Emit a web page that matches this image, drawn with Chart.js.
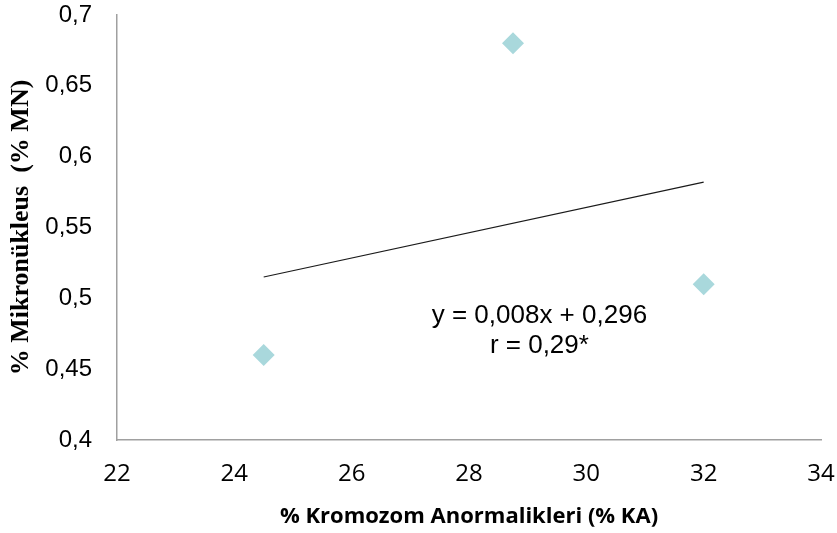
<!DOCTYPE html>
<html>
<head>
<meta charset="utf-8">
<script src="https://cdn.jsdelivr.net/npm/chart.js@4/dist/chart.umd.min.js"></script>
<style>
  html, body { margin: 0; padding: 0; background: #ffffff; }
  #wrap { width: 837px; height: 533px; position: relative; }
</style>
</head>
<body>
<div id="wrap"><canvas id="chart" width="837" height="533"></canvas></div>
<script>
// Kromozom anormallikleri (% KA) ve mikronükleus (% MN) değerleri
const kaValues = [24.5, 28.75, 32];
const mnValues = [0.46, 0.68, 0.51];
const xTicks = [22, 24, 26, 28, 30, 32, 34];
const yTicks = [0.4, 0.45, 0.5, 0.55, 0.6, 0.65, 0.7];
const equationText = ['y = 0,008x + 0,296', 'r = 0,29*'];

// Least-squares trend line over the measured points
function linearFit(xs, ys) {
  const n = xs.length;
  const mx = xs.reduce((a, b) => a + b, 0) / n;
  const my = ys.reduce((a, b) => a + b, 0) / n;
  let sxy = 0, sxx = 0;
  for (let i = 0; i < n; i++) {
    sxy += (xs[i] - mx) * (ys[i] - my);
    sxx += (xs[i] - mx) * (xs[i] - mx);
  }
  const slope = sxy / sxx;
  return { slope, intercept: my - slope * mx };
}
const fit = linearFit(kaValues, mnValues);
const xMin = Math.min(...kaValues), xMax = Math.max(...kaValues);
const trendPoints = [
  { x: xMin, y: fit.intercept + fit.slope * xMin },
  { x: xMax, y: fit.intercept + fit.slope * xMax }
];

const comma = v => Number(v.toFixed(2)).toString().replace('.', ',');

// Draws the regression equation inside the plot area
const equationPlugin = {
  id: 'equationLabel',
  afterDatasetsDraw(chart, args, opts) {
    const { ctx, scales } = chart;
    const cx = scales.x.getPixelForValue(opts.x);
    const cy = scales.y.getPixelForValue(opts.y);
    ctx.save();
    ctx.fillStyle = '#000000';
    ctx.font = '26px "Liberation Sans", Arial, sans-serif';
    ctx.textAlign = 'center';
    ctx.textBaseline = 'middle';
    equationText.forEach((line, i) => ctx.fillText(line, cx, cy + i * opts.lineGap));
    ctx.restore();
  }
};

new Chart(document.getElementById('chart'), {
  type: 'scatter',
  data: {
    datasets: [
      {
        label: '% MN',
        data: kaValues.map((x, i) => ({ x, y: mnValues[i] })),
        pointStyle: 'rectRot',
        pointRadius: 11,
        pointHoverRadius: 11,
        backgroundColor: '#a9d8dc',
        borderColor: '#a9d8dc',
        borderWidth: 0,
        order: 2
      },
      {
        label: 'trend',
        type: 'line',
        data: trendPoints,
        borderColor: '#1a1a1a',
        borderWidth: 1.2,
        pointRadius: 0,
        fill: false,
        order: 1
      }
    ]
  },
  options: {
    responsive: false,
    animation: false,
    devicePixelRatio: 1,
    layout: { padding: { left: 6, right: 2, top: 0, bottom: 3 } },
    plugins: {
      legend: { display: false },
      tooltip: { enabled: false },
      equationLabel: { x: 29.2, y: 0.4875, lineGap: 30 }
    },
    scales: {
      x: {
        type: 'linear',
        min: 22, max: 34,
        afterBuildTicks: s => { s.ticks = xTicks.map(v => ({ value: v })); },
        afterFit: s => { s.height = 90; s.paddingRight = 16; },
        grid: { display: false, drawTicks: false },
        border: { display: true, color: '#a0a0a0', width: 1.5 },
        ticks: {
          color: '#000000',
          padding: 20,
          maxRotation: 0,
          font: { family: '"Open Sans", sans-serif', size: 24 },
          callback: v => String(v)
        },
        title: {
          display: true,
          text: '% Kromozom Anormalikleri (% KA)',
          color: '#000000',
          padding: { top: 11, bottom: 0 },
          font: { family: '"Open Sans", sans-serif', size: 22, weight: 'bold' }
        }
      },
      y: {
        type: 'linear',
        min: 0.4, max: 0.7,
        afterBuildTicks: s => { s.ticks = yTicks.map(v => ({ value: v })); },
        afterFit: s => { s.width = 111; s.paddingTop = 15; s.paddingBottom = 0; },
        grid: { display: false, drawTicks: false },
        border: { display: true, color: '#a0a0a0', width: 1.5 },
        ticks: {
          color: '#000000',
          padding: 25,
          font: { family: '"Liberation Sans", Arial, sans-serif', size: 24 },
          callback: v => comma(v)
        },
        title: {
          display: true,
          text: '% Mikronükleus  (% MN)',
          color: '#000000',
          padding: { top: 0, bottom: 8 },
          font: { family: '"Liberation Serif", "Times New Roman", serif', size: 26, weight: 'bold' }
        }
      }
    }
  },
  plugins: [equationPlugin]
});
</script>
</body>
</html>
